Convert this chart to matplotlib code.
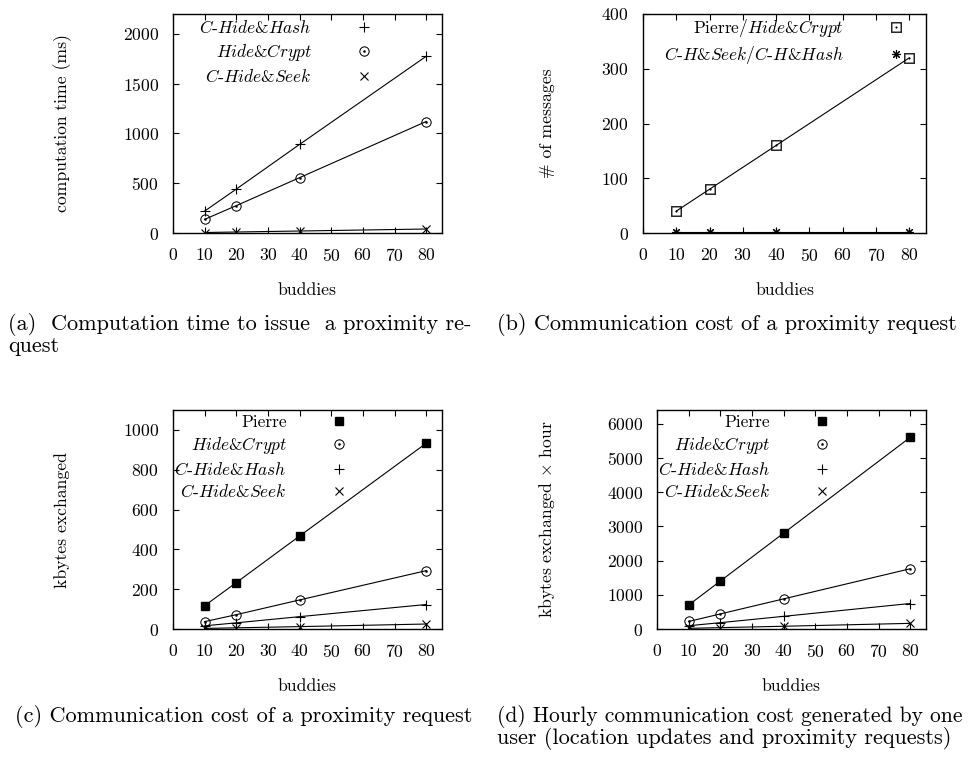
import matplotlib
matplotlib.use('Agg')
import matplotlib.pyplot as plt

plt.rcParams['font.family'] = 'cmr10'
plt.rcParams['mathtext.fontset'] = 'cm'
plt.rcParams['axes.unicode_minus'] = False
plt.rcParams['axes.formatter.use_mathtext'] = True

buddies = [10, 20, 40, 80]

# (a) computation time to issue a proximity request (ms)
time_hash = [220, 441, 890, 1775]
time_crypt = [137, 275, 556, 1120]
time_seek = [5, 10, 20, 40]

# (b) number of messages per proximity request
msg_pierre_crypt = [40, 80, 160, 320]
msg_seek_hash = [2, 2, 2, 2]

# (c) kbytes exchanged per proximity request
kb_pierre = [117, 233, 467, 933]
kb_crypt = [37, 72, 146, 293]
kb_hash = [16, 31, 62, 123]
kb_seek = [3, 6, 12, 25]

# (d) kbytes exchanged per hour
kbh_pierre = [700, 1400, 2800, 5600]
kbh_crypt = [220, 440, 880, 1760]
kbh_hash = [95, 185, 370, 745]
kbh_seek = [20, 40, 80, 165]

HASH = r'$\mathit{C}$-$\mathit{Hide&Hash}$'
CRYPT = r'$\mathit{Hide&Crypt}$'
SEEK = r'$\mathit{C}$-$\mathit{Hide&Seek}$'
PIERRE = 'Pierre'
PIERRE_CRYPT = r'Pierre/$\mathit{Hide&Crypt}$'
SEEK_HASH = r'$\mathit{C}$-$\mathit{H&Seek}$/$\mathit{C}$-$\mathit{H&Hash}$'

W, H = 968, 762
fig = plt.figure(figsize=(W / 100, H / 100), dpi=100)
FS = 12.7


def make_axes(left, top, right, bottom):
    return fig.add_axes([left / W, 1 - bottom / H, (right - left) / W, (bottom - top) / H])


styles = {
    'hash': dict(marker='+', ms=6.5, mew=0.8),
    'crypt': dict(marker=r'$\odot$', ms=7, mew=0.3),
    'seek': dict(marker='x', ms=5.5, mew=0.8),
    'pierre': dict(marker='s', ms=5.5, mfc='k'),
    'box': dict(marker=r'$\boxdot$', ms=7.5, mew=0.3),
    'star': dict(marker=(8, 2, 0), ms=6.5, mew=0.8),
}


def series(ax, vals, key, label):
    ax.plot(buddies, vals, color='k', lw=0.8, mec='k', label=label, **styles[key])


def finish(ax, ymax, yticks, ylabel, leg_x, leg_y, ylab_x):
    ax.set_xlim(0, 85)
    ax.set_ylim(0, ymax)
    ax.set_xticks(range(0, 90, 10))
    ax.set_yticks(yticks)
    ax.tick_params(direction='in', top=True, right=True, length=4.5, width=0.8,
                   labelsize=FS, pad=10)
    for s in ax.spines.values():
        s.set_linewidth(1.0)
    ax.set_xlabel('buddies', fontsize=FS)
    ax.xaxis.label.set_va('center')
    ax.xaxis.set_label_coords(0.5, -0.26)
    ax.set_ylabel(ylabel, fontsize=FS)
    ax.yaxis.label.set_va('center')
    ax.yaxis.set_label_coords(ylab_x, 0.5)
    ax.legend(loc='upper right', bbox_to_anchor=(leg_x, leg_y), frameon=False,
              markerfirst=False, handlelength=0, handletextpad=3.0,
              borderpad=0, borderaxespad=0, labelspacing=0.3, fontsize=12.5)


# (a)
ax = make_axes(173, 14, 442, 233)
series(ax, time_hash, 'hash', HASH)
series(ax, time_crypt, 'crypt', CRYPT)
series(ax, time_seek, 'seek', SEEK)
finish(ax, 2200, range(0, 2001, 500), 'computation time (ms)', 0.710, 0.975, -0.409)

# (b)
ax = make_axes(643, 14, 926, 233)
series(ax, msg_pierre_crypt, 'box', PIERRE_CRYPT)
series(ax, msg_seek_hash, 'star', SEEK_HASH)
finish(ax, 400, range(0, 401, 100), '# of messages', 0.894, 0.985, -0.339)

# (c)
ax = make_axes(173, 410, 442, 629)
series(ax, kb_pierre, 'pierre', PIERRE)
series(ax, kb_crypt, 'crypt', CRYPT)
series(ax, kb_hash, 'hash', HASH)
series(ax, kb_seek, 'seek', SEEK)
finish(ax, 1100, range(0, 1001, 200), 'kbytes exchanged', 0.617, 0.980, -0.413)

# (d)
ax = make_axes(657, 410, 926, 629)
series(ax, kbh_pierre, 'pierre', PIERRE)
series(ax, kbh_crypt, 'crypt', CRYPT)
series(ax, kbh_hash, 'hash', HASH)
series(ax, kbh_seek, 'seek', SEEK)
finish(ax, 6400, range(0, 6001, 1000), r'kbytes exchanged $\times$ hour', 0.615, 0.980, -0.409)

# sub-captions
cap = dict(fontsize=16.0, ha='left', va='baseline')
fig.text(8 / W, 1 - 330 / H, '(a)  Computation time to issue  a proximity re-', **cap)
fig.text(8 / W, 1 - 352 / H, 'quest', **cap)
fig.text(497 / W, 1 - 330 / H, '(b) Communication cost of a proximity request', **cap)
fig.text(15 / W, 1 - 722 / H, '(c) Communication cost of a proximity request', **cap)
fig.text(497 / W, 1 - 722 / H, '(d) Hourly communication cost generated by one',
         fontsize=15.5, ha='left', va='baseline')
fig.text(497 / W, 1 - 744 / H, 'user (location updates and proximity requests)', **cap)

fig.savefig('out.png', dpi=100)
